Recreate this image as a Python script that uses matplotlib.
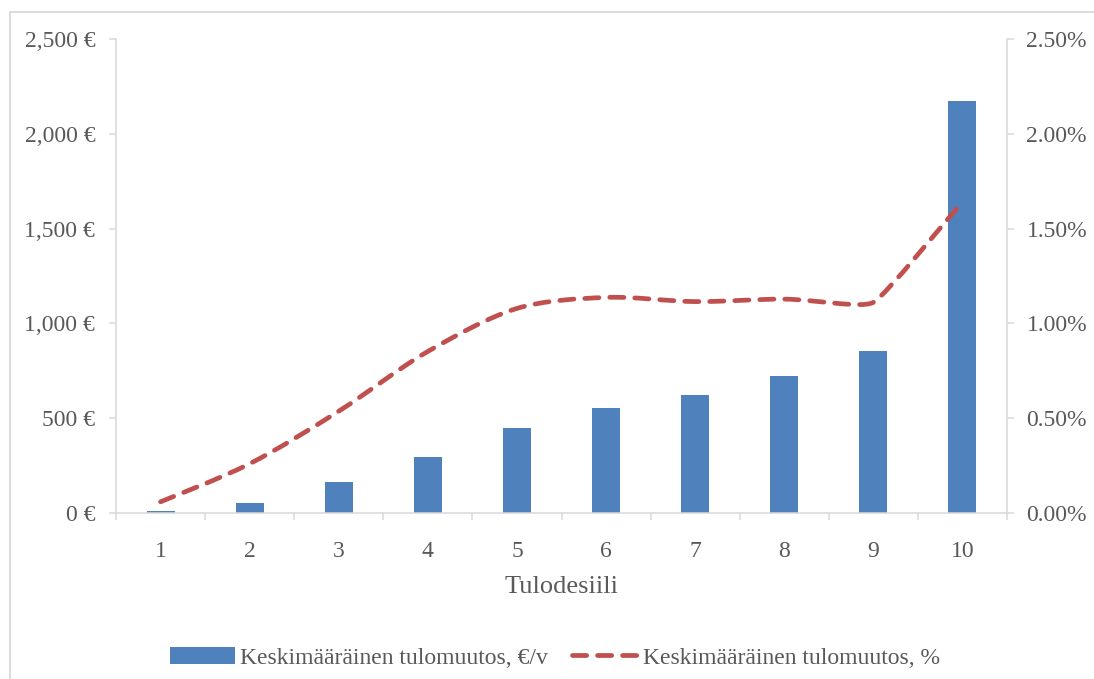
import matplotlib
matplotlib.use("Agg")
import numpy as np
import matplotlib.pyplot as plt
from matplotlib.path import Path
from matplotlib.patches import PathPatch, Patch, Rectangle
from matplotlib.lines import Line2D
from matplotlib.ticker import FuncFormatter, FixedLocator, MultipleLocator

# Income deciles and the average change in income per decile
deciles = [1, 2, 3, 4, 5, 6, 7, 8, 9, 10]
change_eur = [8, 55, 162, 297, 450, 552, 620, 724, 857, 2175]
change_pct = [0.059, 0.26, 0.537, 0.852, 1.079, 1.137, 1.115, 1.128, 1.111, 1.641]

label_eur = "Keskimääräinen tulomuutos, €/v"
label_pct = "Keskimääräinen tulomuutos, %"
x_label = "Tulodesiili"

BAR = "#4F81BD"
LINE = "#C0504D"
TEXT = "#595959"
GRID = "#D9D9D9"

plt.rcParams["font.family"] = ["Liberation Serif", "DejaVu Serif"]

fig = plt.figure(figsize=(10.94, 6.79), dpi=100)
ax = fig.add_axes([116 / 1094, 1 - 513 / 679, (1007 - 116) / 1094, (513 - 39) / 679])
ax2 = ax.twinx()

# Bars: average change in euros per year
ax.bar(deciles, change_eur, width=0.315, color=BAR, zorder=2)
ax.set_xlim(0.5, 10.5)
ax.set_ylim(0, 2500)
ax.yaxis.set_major_locator(MultipleLocator(500))
ax.yaxis.set_major_formatter(FuncFormatter(lambda v, p: f"{v:,.0f} €"))

# Percent axis
ax2.set_ylim(0, 0.025)
ax2.yaxis.set_major_locator(MultipleLocator(0.005))
ax2.yaxis.set_major_formatter(FuncFormatter(lambda v, p: f"{v * 100:.2f}%"))


def smooth_path(xs, ys, trans):
    """Cubic Bezier through the points; tangents shrink where the line turns sharply."""
    scr = trans.transform(np.column_stack([xs, ys]))
    n = len(scr)
    tangents = []
    for i in range(n):
        prev_p = scr[i - 1] if i > 0 else scr[i]
        next_p = scr[i + 1] if i < n - 1 else scr[i]
        t = (next_p - prev_p) / 6
        if 0 < i < n - 1:
            a = scr[i] - prev_p
            b = next_p - scr[i]
            cos_turn = np.dot(a, b) / (np.hypot(*a) * np.hypot(*b))
            t = t * max(cos_turn, 0.0) ** 2
        tangents.append(t)
    verts = [scr[0]]
    codes = [Path.MOVETO]
    for i in range(n - 1):
        verts += [scr[i] + tangents[i], scr[i + 1] - tangents[i + 1], scr[i + 1]]
        codes += [Path.CURVE4] * 3
    return Path(trans.inverted().transform(np.array(verts)), codes)


# Smoothed dashed line for the percentage change
curve = PathPatch(smooth_path(deciles, [v / 100 for v in change_pct], ax2.transData),
                  facecolor="none", edgecolor=LINE, linewidth=3.4,
                  linestyle=(0, (3, 2.3)), capstyle="round", joinstyle="round", zorder=3)
ax2.add_patch(curve)

# Axis styling
for a in (ax, ax2):
    a.spines["top"].set_visible(False)
    for side in ("left", "right", "bottom"):
        a.spines[side].set_color(GRID)
        a.spines[side].set_linewidth(1.1)
ax.spines["right"].set_visible(False)
ax2.spines["left"].set_visible(False)
ax2.spines["bottom"].set_visible(False)

ax.set_xticks(deciles)
ax.set_xticklabels([str(d) for d in deciles])
ax.xaxis.set_minor_locator(FixedLocator([d + 0.5 for d in [0] + deciles]))
ax.tick_params(axis="x", which="major", length=0, pad=20, labelsize=17, labelcolor=TEXT)
ax.tick_params(axis="x", which="minor", length=5, width=1.1, color=GRID, direction="out")
ax.tick_params(axis="y", length=5, width=1.1, color=GRID, pad=10, labelsize=17, labelcolor=TEXT)
ax2.tick_params(axis="y", length=5, width=1.1, color=GRID, pad=9, labelsize=17, labelcolor=TEXT)

ax.set_xlabel(x_label, fontsize=19, color=TEXT, labelpad=10)

# Legend below the plot
handles = [
    Patch(facecolor=BAR, edgecolor="none"),
    Line2D([0], [0], color=LINE, linewidth=3.4, linestyle=(0, (3, 2.3)),
           dash_capstyle="round"),
]
fig.legend(handles, [label_eur, label_pct], loc="center", bbox_to_anchor=(0.507, 0.031),
           ncol=2, frameon=False, fontsize=17, labelcolor=TEXT, handlelength=2.75,
           handleheight=0.72, handletextpad=0.25, columnspacing=1.0, borderpad=0)

# Chart-area outline
fig.patches.append(Rectangle((10 / 1094, -0.5), 1.5, 1.5 - 12 / 679,
                             transform=fig.transFigure, fill=False,
                             edgecolor=GRID, linewidth=1.3, zorder=0))

fig.savefig("out.png", dpi=100)
